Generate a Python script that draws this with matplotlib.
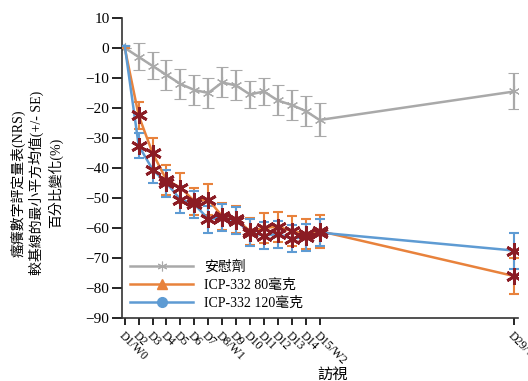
import matplotlib
matplotlib.use("Agg")
import matplotlib.pyplot as plt
from matplotlib.lines import Line2D

plt.rcParams['font.family'] = ['Liberation Serif', 'Noto Sans CJK TC']

days = [1, 2, 3, 4, 5, 6, 7, 8, 9, 10, 11, 12, 13, 14, 15, 29]
tick_labels = ["D1/W0", "D2", "D3", "D4", "D5", "D6", "D7", "D8/W1", "D9", "D10",
               "D11", "D12", "D13", "D14", "D15/W2", "D29/W4"]

placebo = [0, -3, -6, -9, -12, -14, -15, -11.5, -12.5, -15.5, -14.5, -17.5, -19, -21, -24, -14.5]
placebo_se = [0, 4.5, 4.5, 5, 5, 5, 5, 5, 5, 4.5, 4.5, 5, 5, 5, 5.5, 6]

icp80 = [0, -22.5, -35, -44, -46.5, -51, -50.5, -56, -57, -61, -60, -59.5, -61, -62, -61, -76]
icp80_se = [0, 4.5, 5, 5, 5, 4.5, 5.3, 4.5, 4.5, 4.5, 5, 5, 5, 5, 5.5, 6]

icp120 = [0.8, -32.5, -40.5, -45, -50.5, -52, -57, -56.5, -57.5, -61.5, -62.5, -62, -63.5, -63, -61.5, -67.5]
icp120_se = [0, 4, 4.5, 4.5, 4.5, 4.5, 4.5, 4.5, 4.5, 4.5, 4.5, 4.5, 4.5, 4.5, 4.5, 6]

legend_labels = ["安慰劑", "ICP-332 80毫克", "ICP-332 120毫克"]

grey = "#a9a9a9"
orange = "#e8823c"
blue = "#5e9bd3"
darkred = "#8b1c24"

fig = plt.figure(figsize=(5.28, 3.81), dpi=100)
ax = fig.add_axes([0.231, 0.165, 0.751, 0.788])

ax.errorbar(days, placebo, yerr=placebo_se, color=grey, lw=1.8, capsize=4,
            elinewidth=1.6, capthick=1.6, marker=(6, 2, 0), markersize=8,
            markeredgewidth=0.8, zorder=2)
ax.errorbar(days, icp80, yerr=icp80_se, color=orange, lw=1.8, capsize=3.5,
            elinewidth=1.5, capthick=1.5, zorder=3)
ax.errorbar(days, icp120, yerr=icp120_se, color=blue, lw=1.8, capsize=3.5,
            elinewidth=1.5, capthick=1.5, zorder=3)
ax.plot(days[1:], icp80[1:], linestyle='none', marker=(6, 2, 0), markersize=12,
        markeredgewidth=2, color=darkred, zorder=5)
ax.plot(days[1:], icp120[1:], linestyle='none', marker=(6, 2, 0), markersize=12,
        markeredgewidth=2, color=darkred, zorder=5)

ax.set_xlim(0.8, 29.3)
ax.set_ylim(-90, 10)
ax.set_yticks(range(-90, 11, 10))
ax.set_xticks(days)
ax.set_xticklabels(tick_labels, rotation=-45, ha='left', va='top',
                   rotation_mode='anchor', fontsize=8.5)
ax.tick_params(axis='y', labelsize=11, length=7, width=1.2, pad=2, direction='out')
ax.tick_params(axis='x', length=5, width=1.2, direction='out')
for s in ['top', 'right']:
    ax.spines[s].set_visible(False)
for s in ['left', 'bottom']:
    ax.spines[s].set_linewidth(1.2)
    ax.spines[s].set_color('#333333')

ax.set_ylabel("瘙癢數字評定量表(NRS)\n較基線的最小平方均值(+/- SE)\n百分比變化(%)",
              fontsize=10, linespacing=1.3, ha='center', va='center')
ax.yaxis.set_label_coords(-0.215, 0.45)
ax.set_xlabel("訪視", fontsize=11)
ax.xaxis.set_label_coords(0.53, -0.165)

handles = [
    Line2D([], [], color=grey, lw=1.8, marker=(6, 2, 0), markersize=7, markeredgewidth=0.8),
    Line2D([], [], color=orange, lw=1.8, marker='^', markersize=7),
    Line2D([], [], color=blue, lw=1.8, marker='o', markersize=7),
]
ax.legend(handles, legend_labels, loc='lower left', bbox_to_anchor=(0.0, 0.0),
          frameon=False, fontsize=10, handlelength=4.5, labelspacing=0.35,
          handletextpad=0.8, borderaxespad=0.2)

fig.savefig("out.png", dpi=100)
